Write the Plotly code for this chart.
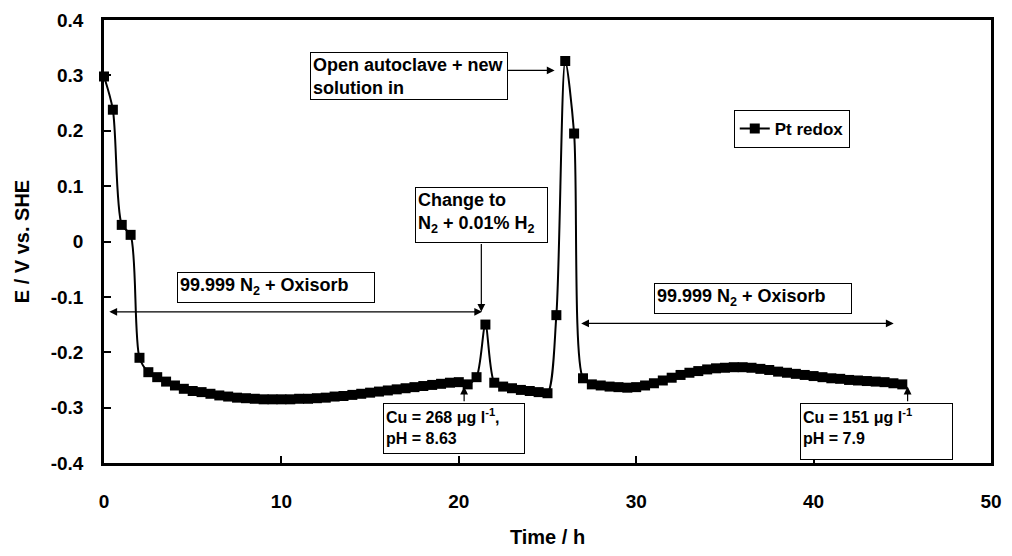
import plotly.graph_objects as go

time_h = [0, 0.5, 1, 1.5, 2, 2.5, 3, 3.5, 4, 4.5, 5, 5.5, 6, 6.5, 7, 7.5, 8, 8.5, 9, 9.5,
          10, 10.5, 11, 11.5, 12, 12.5, 13, 13.5, 14, 14.5, 15, 15.5, 16, 16.5, 17, 17.5,
          18, 18.5, 19, 19.5, 20, 20.5, 21, 21.5, 22, 22.5, 23, 23.5, 24, 24.5, 25, 25.5,
          26, 26.5, 27, 27.5, 28, 28.5, 29, 29.5, 30, 30.5, 31, 31.5, 32, 32.5, 33, 33.5,
          34, 34.5, 35, 35.5, 36, 36.5, 37, 37.5, 38, 38.5, 39, 39.5, 40, 40.5, 41, 41.5,
          42, 42.5, 43, 43.5, 44, 44.5, 45]
e_pt = [0.298, 0.238, 0.030, 0.012, -0.210, -0.236, -0.245, -0.253, -0.260, -0.266,
        -0.270, -0.272, -0.275, -0.278, -0.280, -0.282, -0.283, -0.284, -0.285, -0.285,
        -0.285, -0.285, -0.284, -0.284, -0.283, -0.282, -0.280, -0.279, -0.277, -0.275,
        -0.273, -0.271, -0.269, -0.267, -0.265, -0.263, -0.261, -0.259, -0.257, -0.255,
        -0.254, -0.258, -0.245, -0.150, -0.255, -0.262, -0.265, -0.268, -0.270, -0.272,
        -0.274, -0.133, 0.326, 0.195, -0.247, -0.258, -0.260, -0.262, -0.263, -0.264,
        -0.263, -0.260, -0.256, -0.251, -0.246, -0.241, -0.237, -0.234, -0.231, -0.229,
        -0.228, -0.227, -0.227, -0.228, -0.230, -0.232, -0.235, -0.237, -0.239, -0.241,
        -0.243, -0.245, -0.247, -0.248, -0.250, -0.251, -0.252, -0.253, -0.254, -0.256,
        -0.258]

x_ticks = [0, 10, 20, 30, 40, 50]
y_ticks = [-0.4, -0.3, -0.2, -0.1, 0, 0.1, 0.2, 0.3, 0.4]
y_tick_text = ["-0.4", "-0.3", "-0.2", "-0.1", "0", "0.1", "0.2", "0.3", "0.4"]

FONT = "Liberation Sans, Arial, sans-serif"

fig = go.Figure()
fig.add_trace(go.Scatter(
    x=time_h, y=e_pt, name="Pt redox", mode="lines+markers", cliponaxis=False,
    line=dict(color="black", width=2, shape="spline", smoothing=0.8),
    marker=dict(symbol="square", size=10, color="black"),
))

def box(x, y, text, width, height, size=18):
    fig.add_annotation(x=x, y=y, xref="x", yref="y", text=text, showarrow=False,
                       xanchor="left", yanchor="top", align="left", valign="top",
                       width=width, height=height,
                       bordercolor="black", borderwidth=1, borderpad=2, bgcolor="white",
                       font=dict(family=FONT, size=size, color="black", weight="bold"))

def arrow(x, y, ax, ay, both=False):
    fig.add_annotation(x=x, y=y, ax=ax, ay=ay, xref="x", yref="y", axref="x", ayref="y",
                       text="", showarrow=True, arrowhead=2, arrowsize=1.3, arrowwidth=1.2,
                       arrowcolor="black", arrowside="end+start" if both else "end",
                       startarrowhead=2, startarrowsize=1.3)

# Open autoclave box + arrow
box(11.6, 0.342, "Open autoclave + new<br>solution in", 192, 42)
arrow(25.4, 0.309, 22.65, 0.309)

# Change to box + arrow
box(17.55, 0.098, "Change to<br>N<sub>2</sub> + 0.01% H<sub>2</sub>", 127, 50)
arrow(21.27, -0.127, 21.27, -0.002)

# 99.999 boxes + double arrows
box(4.1, -0.055, "99.999 N<sub>2</sub> + Oxisorb", 192, 25)
arrow(0.3, -0.127, 21.4, -0.127, both=True)
box(31.0, -0.075, "99.999 N<sub>2</sub> + Oxisorb", 192, 25)
arrow(26.9, -0.148, 44.6, -0.148, both=True)

# Cu boxes + arrows
box(15.75, -0.291, "Cu = 268 &#956;g l<sup>-1</sup>,<br>pH = 8.63", 136, 45, size=16)
arrow(20.3, -0.262, 20.3, -0.291)
box(39.25, -0.291, "Cu = 151 &#956;g l<sup>-1</sup><br>pH = 7.9", 147, 51, size=16)
arrow(45.3, -0.262, 45.3, -0.291)

axis_common = dict(showline=True, linecolor="black", linewidth=2.5, mirror=True,
                   ticks="inside", ticklen=7, tickwidth=2, tickcolor="black",
                   showgrid=False, zeroline=False,
                   tickfont=dict(family=FONT, size=19, color="black", weight="bold"))

fig.update_xaxes(range=[0, 50], tickvals=x_ticks, ticklabelstandoff=19,
                 title=dict(text="Time / h", standoff=20,
                            font=dict(family=FONT, size=20, color="black", weight="bold")),
                 **axis_common)
fig.update_yaxes(range=[-0.4, 0.4], tickvals=y_ticks, ticktext=y_tick_text,
                 ticklabelstandoff=14,
                 title=dict(text="E / V vs. SHE", standoff=16,
                            font=dict(family=FONT, size=20, color="black", weight="bold")),
                 **axis_common)

fig.update_layout(
    width=1012, height=556,
    margin=dict(l=104, r=10, t=16, b=92),
    paper_bgcolor="white", plot_bgcolor="white",
    showlegend=True,
    legend=dict(x=0.71, y=0.797, xanchor="left", yanchor="top",
                bordercolor="black", borderwidth=1, bgcolor="white",
                font=dict(family=FONT, size=17, color="black", weight="bold"),
                itemwidth=30),
)

fig.write_html("out.html")
